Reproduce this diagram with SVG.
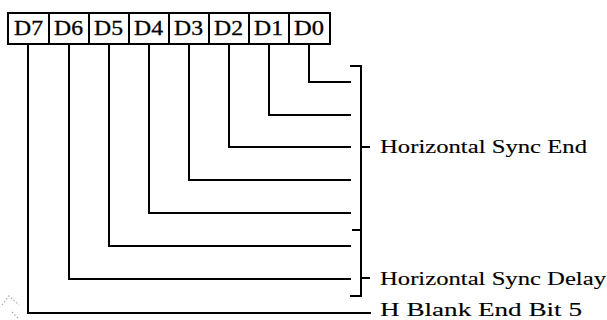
<svg xmlns="http://www.w3.org/2000/svg" width="607" height="320" viewBox="0 0 607 320">
  <style>
    .cell { fill: #fff; stroke: #000; stroke-width: 2; }
    .bit { font-family: "Liberation Serif", "Times New Roman", serif; font-size: 20px; fill: #000; stroke: #000; stroke-width: 0.3; }
    .wire { fill: none; stroke: #000; stroke-width: 2; stroke-linejoin: miter; stroke-linecap: square; }
    .brace { fill: none; stroke: #000; stroke-width: 2; }
    .label { font-family: "Liberation Serif", "Times New Roman", serif; font-size: 18px; fill: #000; stroke: #000; stroke-width: 0.12; }
    .speck { fill: none; stroke: #aaa; stroke-width: 1.2; stroke-dasharray: 1.5 2; }
  </style>
  <rect width="607" height="320" fill="#fff"/>

  <!-- register bit cells -->
  <g id="register">
    <g id="bit-d7"><rect class="cell" x="8" y="13" width="41" height="31"/><text class="bit" x="14" y="35" textLength="29" lengthAdjust="spacingAndGlyphs">D7</text></g>
    <g id="bit-d6"><rect class="cell" x="49" y="13" width="40" height="31"/><text class="bit" x="54" y="35" textLength="29" lengthAdjust="spacingAndGlyphs">D6</text></g>
    <g id="bit-d5"><rect class="cell" x="89" y="13" width="40" height="31"/><text class="bit" x="94" y="35" textLength="29" lengthAdjust="spacingAndGlyphs">D5</text></g>
    <g id="bit-d4"><rect class="cell" x="129" y="13" width="40" height="31"/><text class="bit" x="134" y="35" textLength="29" lengthAdjust="spacingAndGlyphs">D4</text></g>
    <g id="bit-d3"><rect class="cell" x="169" y="13" width="40" height="31"/><text class="bit" x="174" y="35" textLength="29" lengthAdjust="spacingAndGlyphs">D3</text></g>
    <g id="bit-d2"><rect class="cell" x="209" y="13" width="40" height="31"/><text class="bit" x="214" y="35" textLength="29" lengthAdjust="spacingAndGlyphs">D2</text></g>
    <g id="bit-d1"><rect class="cell" x="249" y="13" width="40" height="31"/><text class="bit" x="254" y="35" textLength="29" lengthAdjust="spacingAndGlyphs">D1</text></g>
    <g id="bit-d0"><rect class="cell" x="289" y="13" width="41" height="31"/><text class="bit" x="294" y="35" textLength="30" lengthAdjust="spacingAndGlyphs">D0</text></g>
  </g>

  <!-- leader lines from each bit -->
  <g id="connectors">
    <polyline class="wire" points="309,44 309,82 350,82"/>
    <polyline class="wire" points="269,44 269,115 350,115"/>
    <polyline class="wire" points="229,44 229,147 350,147"/>
    <polyline class="wire" points="189,44 189,180 350,180"/>
    <polyline class="wire" points="149,44 149,213 350,213"/>
    <polyline class="wire" points="109,44 109,246 350,246"/>
    <polyline class="wire" points="69,44 69,279 350,279"/>
    <polyline class="wire" points="28,44 28,313 370,313"/>

    <!-- joined braces -->
    <path class="brace" d="M350,66 H361 V296 H350 M361,147 H370 M361,230 H352 M361,278 H370"/>
  </g>

  <g id="field-labels">
    <text class="label" x="380" y="153" textLength="207" lengthAdjust="spacingAndGlyphs">Horizontal Sync End</text>
    <text class="label" x="380" y="285" textLength="226" lengthAdjust="spacingAndGlyphs">Horizontal Sync Delay</text>
    <text class="label" x="380" y="316" textLength="202" lengthAdjust="spacingAndGlyphs">H Blank End Bit 5</text>
  </g>

  <!-- faint specks in the lower left margin -->
  <g id="specks">
    <polyline class="speck" points="2,305 9,296 19,305"/>
    <line class="speck" x1="12" y1="312" x2="18" y2="318"/>
  </g>
</svg>
